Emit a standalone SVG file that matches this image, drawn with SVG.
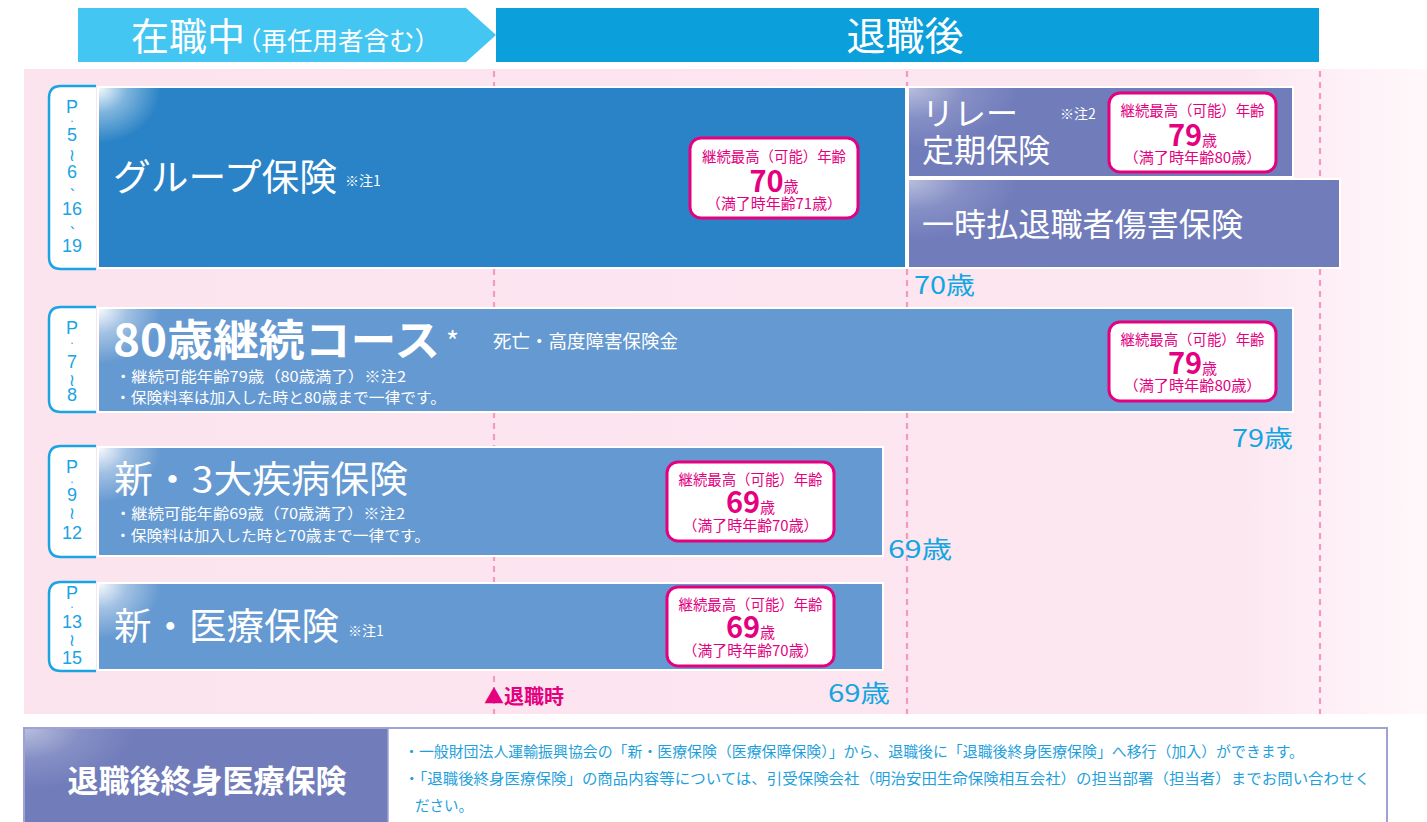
<svg xmlns="http://www.w3.org/2000/svg" width="1427" height="822" viewBox="0 0 1427 822">
<defs>
<linearGradient id="bgGrad" x1="0" y1="0" x2="1" y2="0">
<stop offset="0" stop-color="#FCE4EF"/>
<stop offset="0.86" stop-color="#FCE6F0"/>
<stop offset="1" stop-color="#FFF8FB"/>
</linearGradient>
<radialGradient id="shine" cx="0" cy="0" r="1">
<stop offset="0" stop-color="#ffffff" stop-opacity="0.95"/>
<stop offset="0.45" stop-color="#ffffff" stop-opacity="0.4"/>
<stop offset="1" stop-color="#ffffff" stop-opacity="0"/>
</radialGradient>
<radialGradient id="shine2" cx="0" cy="0" r="1">
<stop offset="0" stop-color="#ffffff" stop-opacity="0.5"/>
<stop offset="0.5" stop-color="#ffffff" stop-opacity="0.15"/>
<stop offset="1" stop-color="#ffffff" stop-opacity="0"/>
</radialGradient>
</defs>
<style>
text { font-family: "Noto Sans CJK JP", "Noto Sans", sans-serif; }
.w { fill: #ffffff; }
.tab { fill: #ffffff; stroke: #1AA4E2; stroke-width: 2.5; }
.tabt { fill: #1AA4E2; font-family: "Liberation Sans", "Noto Sans CJK JP", sans-serif; font-size: 18px; text-anchor: middle; dominant-baseline: central; }
.sm { font-size: 12px; }
.tl { font-size: 17px; font-family: "DejaVu Sans", sans-serif; }
.cm { font-size: 12px; font-family: "Noto Sans CJK JP", sans-serif; }
.box { stroke: #ffffff; stroke-width: 2; }
.blue1 { fill: #2A83C6; }
.blue2 { fill: #6599D1; }
.purple { fill: #717CBB; }
.pbox { fill: #ffffff; stroke: #E4007F; stroke-width: 3; }
.pt { fill: #E4007F; text-anchor: middle; font-size: 14.5px; }
.pn { font-weight: bold; font-size: 29px; }
.ps { font-size: 15px; }
.age { fill: #12A6E2; font-size: 24px; }
.dash { stroke: #F29AC2; stroke-width: 2.2; stroke-dasharray: 6 5; fill: none; }
.sub { fill: #ffffff; font-size: 15px; }
.note { fill: #1E9FDC; font-size: 14.5px; }
</style>

<!-- header -->
<g id="header-left">
<polygon points="78,8 466,8 496,35 466,62 78,62" fill="#43C6F2"/>
<text x="131" y="50" class="w" font-size="38">在職中<tspan font-size="25.5" dx="-9">（再任用者含む）</tspan></text>
</g>
<g id="header-right">
<rect x="496" y="8" width="823" height="54" fill="#0BA0DC"/>
<text x="905" y="50" class="w" font-size="39" text-anchor="middle">退職後</text>
</g>

<!-- background -->
<rect x="24" y="69" width="1403" height="645" fill="url(#bgGrad)"/>

<g id="connectors">
<line x1="494" y1="71" x2="494" y2="714" class="dash"/>
<line x1="907" y1="71" x2="907" y2="714" class="dash"/>
<line x1="1320" y1="71" x2="1320" y2="714" class="dash"/>
</g>

<!-- row 1 -->
<g id="tab1">
<path d="M96,86 H61 Q49,86 49,98 V257 Q49,269 61,269 H96" class="tab"/>
<text class="tabt"><tspan x="72" y="107">P</tspan><tspan x="72" y="118" class="sm">.</tspan><tspan x="72" y="135">5</tspan><tspan x="72" y="155" class="tl">≀</tspan><tspan x="72" y="172">6</tspan><tspan x="76" y="185" class="cm">、</tspan><tspan x="72" y="209">16</tspan><tspan x="76" y="223" class="cm">、</tspan><tspan x="72" y="246">19</tspan></text>
</g>
<g id="group-ins">
<rect x="98" y="87" width="808" height="181" class="box blue1"/>
<rect x="99" y="88" width="62" height="55" fill="url(#shine)"/>
<text x="113" y="191" class="w" font-size="37" textLength="224" lengthAdjust="spacingAndGlyphs">グループ保険</text>
<text x="345" y="186" class="w" font-size="14">※注1</text>
<rect x="690" y="138" width="168" height="80" rx="11" class="pbox"/>
<text x="774" y="162" class="pt" textLength="144" lengthAdjust="spacingAndGlyphs">継続最高（可能）年齢</text>
<text x="774" y="192" class="pt"><tspan class="pn">70</tspan><tspan class="ps">歳</tspan></text>
<text x="774" y="209" class="pt" textLength="136" lengthAdjust="spacingAndGlyphs">（満了時年齢71歳）</text>
</g>
<g id="relay">
<rect x="908" y="87" width="385" height="90" class="box purple"/>
<rect x="909" y="88" width="110" height="60" fill="url(#shine2)"/>
<text x="922" y="125" class="w" font-size="32">リレー</text>
<text x="922" y="162" class="w" font-size="32">定期保険</text>
<text x="1060" y="119" class="w" font-size="14">※注2</text>
<rect x="1109" y="93" width="167" height="79" rx="11" class="pbox"/>
<text x="1192.5" y="116" class="pt" textLength="144" lengthAdjust="spacingAndGlyphs">継続最高（可能）年齢</text>
<text x="1192.5" y="146" class="pt"><tspan class="pn">79</tspan><tspan class="ps">歳</tspan></text>
<text x="1192.5" y="163" class="pt" textLength="138" lengthAdjust="spacingAndGlyphs">（満了時年齢80歳）</text>
</g>
<g id="lump-sum">
<rect x="908" y="179" width="432" height="89" class="box purple"/>
<rect x="909" y="180" width="110" height="60" fill="url(#shine2)"/>
<text x="922" y="236" class="w" font-size="32" textLength="321" lengthAdjust="spacingAndGlyphs">一時払退職者傷害保険</text>
</g>
<text x="914" y="294" class="age" textLength="61" lengthAdjust="spacingAndGlyphs">70歳</text>

<!-- row 2 -->
<g id="tab2">
<path d="M96,307 H61 Q49,307 49,319 V400 Q49,412 61,412 H96" class="tab"/>
<text class="tabt"><tspan x="72" y="328">P</tspan><tspan x="72" y="340" class="sm">.</tspan><tspan x="72" y="362">7</tspan><tspan x="72" y="380" class="tl">≀</tspan><tspan x="72" y="395">8</tspan></text>
</g>
<g id="course80">
<rect x="98" y="308" width="1195" height="104" class="box blue2"/>
<rect x="99" y="309" width="62" height="55" fill="url(#shine)"/>
<text x="113" y="356" class="w" font-size="43" font-weight="bold" textLength="327" lengthAdjust="spacingAndGlyphs">80歳継続コース</text>
<text x="446" y="352" class="w" font-size="28">*</text>
<text x="493" y="348" class="w" font-size="18.5">死亡・高度障害保険金</text>
<text x="115" y="382" class="sub" textLength="291" lengthAdjust="spacingAndGlyphs">・継続可能年齢79歳（80歳満了）※注2</text>
<text x="115" y="403" class="sub" textLength="331" lengthAdjust="spacingAndGlyphs">・保険料率は加入した時と80歳まで一律です。</text>
<rect x="1109" y="322" width="167" height="79" rx="11" class="pbox"/>
<text x="1192.5" y="345" class="pt" textLength="144" lengthAdjust="spacingAndGlyphs">継続最高（可能）年齢</text>
<text x="1192.5" y="374" class="pt"><tspan class="pn">79</tspan><tspan class="ps">歳</tspan></text>
<text x="1192.5" y="391" class="pt" textLength="138" lengthAdjust="spacingAndGlyphs">（満了時年齢80歳）</text>
</g>
<text x="1232" y="447" class="age" textLength="61" lengthAdjust="spacingAndGlyphs">79歳</text>

<!-- row 3 -->
<g id="tab3">
<path d="M96,446 H61 Q49,446 49,458 V545 Q49,557 61,557 H96" class="tab"/>
<text class="tabt"><tspan x="72" y="467">P</tspan><tspan x="72" y="479" class="sm">.</tspan><tspan x="72" y="495">9</tspan><tspan x="72" y="513" class="tl">≀</tspan><tspan x="72" y="533">12</tspan></text>
</g>
<g id="three-disease">
<rect x="98" y="447" width="785" height="109" class="box blue2"/>
<rect x="99" y="448" width="62" height="55" fill="url(#shine)"/>
<text x="114" y="493" class="w" font-size="37" textLength="294" lengthAdjust="spacingAndGlyphs">新・3大疾病保険</text>
<text x="115" y="519" class="sub" textLength="290" lengthAdjust="spacingAndGlyphs">・継続可能年齢69歳（70歳満了）※注2</text>
<text x="115" y="541" class="sub" textLength="315" lengthAdjust="spacingAndGlyphs">・保険料は加入した時と70歳まで一律です。</text>
<rect x="667" y="462" width="167" height="79" rx="11" class="pbox"/>
<text x="750.5" y="485" class="pt" textLength="144" lengthAdjust="spacingAndGlyphs">継続最高（可能）年齢</text>
<text x="750.5" y="513" class="pt"><tspan class="pn">69</tspan><tspan class="ps">歳</tspan></text>
<text x="750.5" y="531" class="pt" textLength="136" lengthAdjust="spacingAndGlyphs">（満了時年齢70歳）</text>
</g>
<text x="888" y="558" class="age" textLength="64" lengthAdjust="spacingAndGlyphs">69歳</text>

<!-- row 4 -->
<g id="tab4">
<path d="M96,582 H61 Q49,582 49,594 V659 Q49,671 61,671 H96" class="tab"/>
<text class="tabt"><tspan x="72" y="593">P</tspan><tspan x="72" y="604" class="sm">.</tspan><tspan x="72" y="622">13</tspan><tspan x="72" y="640" class="tl">≀</tspan><tspan x="72" y="658">15</tspan></text>
</g>
<g id="medical">
<rect x="98" y="583" width="785" height="87" class="box blue2"/>
<rect x="99" y="584" width="62" height="55" fill="url(#shine)"/>
<text x="114" y="640" class="w" font-size="37" textLength="225" lengthAdjust="spacingAndGlyphs">新・医療保険</text>
<text x="348" y="636" class="w" font-size="14">※注1</text>
<rect x="667" y="587" width="167" height="79" rx="11" class="pbox"/>
<text x="750.5" y="610" class="pt" textLength="144" lengthAdjust="spacingAndGlyphs">継続最高（可能）年齢</text>
<text x="750.5" y="638" class="pt"><tspan class="pn">69</tspan><tspan class="ps">歳</tspan></text>
<text x="750.5" y="656" class="pt" textLength="136" lengthAdjust="spacingAndGlyphs">（満了時年齢70歳）</text>
</g>
<text x="828" y="702" class="age" textLength="62" lengthAdjust="spacingAndGlyphs">69歳</text>
<text x="484" y="704" fill="#E4007F" font-size="20" font-weight="bold">▲退職時</text>

<!-- bottom -->
<g id="post-retire-medical">
<rect x="24" y="728" width="1363" height="100" fill="#ffffff" stroke="#9EA3D3" stroke-width="2"/>
<rect x="25" y="729" width="363" height="99" class="purple"/>
<rect x="25" y="729" width="110" height="60" fill="url(#shine2)"/>
<line x1="388" y1="729" x2="388" y2="822" stroke="#9EA3D3" stroke-width="1.5"/>
<text x="207" y="792" class="w" font-size="31" font-weight="bold" text-anchor="middle">退職後終身医療保険</text>
<text x="404" y="757" class="note" textLength="900" lengthAdjust="spacingAndGlyphs">・一般財団法人運輸振興協会の「新・医療保険（医療保障保険）」から、退職後に「退職後終身医療保険」へ移行（加入）ができます。</text>
<text x="404" y="784" class="note" textLength="966" lengthAdjust="spacingAndGlyphs">・「退職後終身医療保険」の商品内容等については、引受保険会社（明治安田生命保険相互会社）の担当部署（担当者）までお問い合わせく</text>
<text x="415" y="811" class="note">ださい。</text>
</g>
</svg>
